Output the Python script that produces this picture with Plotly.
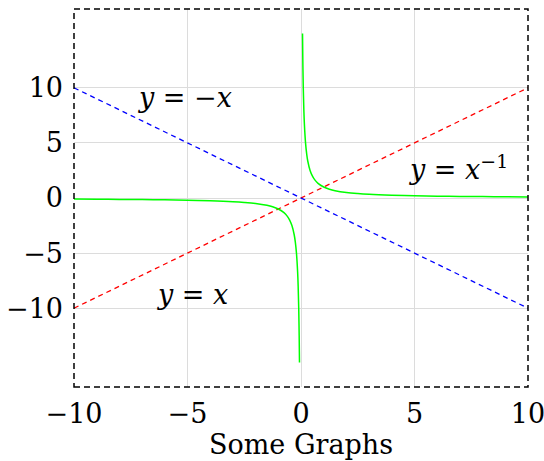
import plotly.graph_objects as go

# Data
line_x = [-10, 10]
y_eq_x = [-10, 10]
y_eq_negx = [10, -10]

recip_x_neg = [-10, -9, -8, -7, -6, -5, -4, -3, -2.5, -2, -1.5, -1.25, -1, -0.75, -0.6, -0.5, -0.4, -0.3, -0.25, -0.2, -0.15, -0.125, -0.1, -0.08, -0.067]
recip_y_neg = [-0.1, -0.111, -0.125, -0.143, -0.167, -0.2, -0.25, -0.333, -0.4, -0.5, -0.667, -0.8, -1, -1.333, -1.667, -2, -2.5, -3.333, -4, -5, -6.667, -8, -10, -12.5, -14.93]
recip_x_pos = [0.067, 0.08, 0.1, 0.125, 0.15, 0.2, 0.25, 0.3, 0.4, 0.5, 0.6, 0.75, 1, 1.25, 1.5, 2, 2.5, 3, 4, 5, 6, 7, 8, 9, 10]
recip_y_pos = [14.93, 12.5, 10, 8, 6.667, 5, 4, 3.333, 2.5, 2, 1.667, 1.333, 1, 0.8, 0.667, 0.5, 0.4, 0.333, 0.25, 0.2, 0.167, 0.143, 0.125, 0.111, 0.1]

tick_vals = [-10, -5, 0, 5, 10]

FONT = "DejaVu Serif"
FS = 27

fig = go.Figure()
fig.add_trace(go.Scatter(x=line_x, y=y_eq_x, mode="lines",
                         line=dict(color="#ff0000", width=1.3, dash="5px,4px")))
fig.add_trace(go.Scatter(x=line_x, y=y_eq_negx, mode="lines",
                         line=dict(color="#0000ff", width=1.3, dash="5px,4px")))
fig.add_trace(go.Scatter(x=recip_x_neg, y=recip_y_neg, mode="lines",
                         line=dict(color="#00ff00", width=1.5, shape="spline")))
fig.add_trace(go.Scatter(x=recip_x_pos, y=recip_y_pos, mode="lines",
                         line=dict(color="#00ff00", width=1.5, shape="spline")))

fig.add_annotation(x=-5.1, y=9.1, text="<i>y</i> = −<i>x</i>", showarrow=False,
                   font=dict(family=FONT, size=FS, color="black"))
fig.add_annotation(x=-4.8, y=-8.8, text="<i>y</i> = <i>x</i>", showarrow=False,
                   font=dict(family=FONT, size=FS, color="black"))
fig.add_annotation(x=6.95, y=2.8, text="<i>y</i> = <i>x</i><sup>−1</sup>", showarrow=False,
                   font=dict(family=FONT, size=FS, color="black"))

fig.add_shape(type="rect", xref="paper", yref="paper", x0=0, y0=0, x1=1, y1=1,
              line=dict(color="black", width=1.5, dash="6px,4px"), layer="above")

fig.update_layout(
    width=544, height=461,
    margin=dict(l=74, r=16, t=9, b=74, autoexpand=False),
    plot_bgcolor="white", paper_bgcolor="white",
    showlegend=False,
    font=dict(family=FONT, size=FS, color="black"),
    xaxis=dict(range=[-10, 10], tickvals=tick_vals, showgrid=True, gridcolor="#dcdcdc",
               gridwidth=1.2, zeroline=False, showline=False, ticks="", automargin=False,
               ticklabelstandoff=8, ticklabeloverflow="allow",
               title=dict(text="Some Graphs", font=dict(family=FONT, size=FS), standoff=4),
               tickfont=dict(family=FONT, size=FS)),
    yaxis=dict(range=[-17.15, 17.15], tickvals=tick_vals, showgrid=True, gridcolor="#dcdcdc",
               gridwidth=1.2, zeroline=False, showline=False, ticks="", automargin=False,
               ticklabelstandoff=10, ticklabeloverflow="allow",
               tickfont=dict(family=FONT, size=FS)),
)

fig.write_html("out.html", config={"displayModeBar": False},
               post_script="document.body.style.margin='0';")
